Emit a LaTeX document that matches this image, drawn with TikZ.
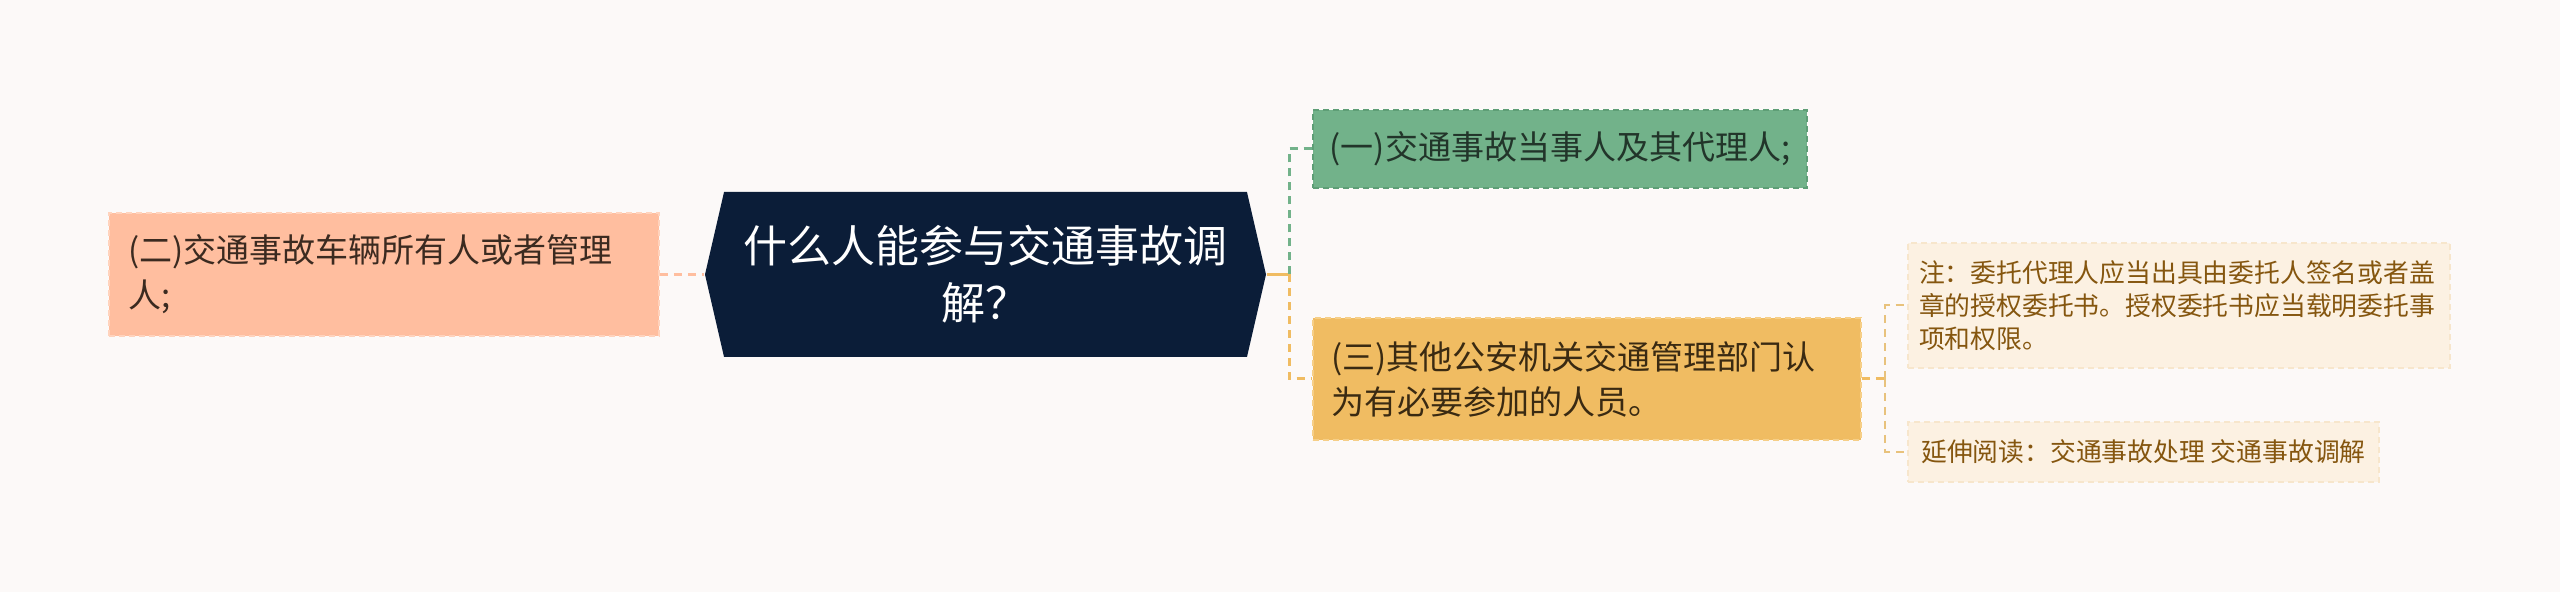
\documentclass[tikz,border=0pt]{standalone}
\usepackage{fontspec}
\setmainfont{Noto Sans CJK SC}
\usepackage{xcolor}
\usetikzlibrary{arrows,positioning,shapes.symbols}

\definecolor{pagebg}{HTML}{FCF9F8}
\definecolor{navy}{HTML}{0B1D38}
\definecolor{peach}{HTML}{FFBE9F}
\definecolor{peachedge}{HTML}{FFD3BD}
\definecolor{peachtext}{HTML}{3B2A20}
\definecolor{leaf}{HTML}{72B28A}
\definecolor{leafedge}{HTML}{5E9E76}
\definecolor{leaftext}{HTML}{22352A}
\definecolor{amber}{HTML}{F0BC62}
\definecolor{amberedge}{HTML}{F6CF88}
\definecolor{ambertext}{HTML}{3A2A12}
\definecolor{cream}{HTML}{FCF1E2}
\definecolor{creamedge}{HTML}{F7E6CC}
\definecolor{creamtext}{HTML}{85560F}
\definecolor{creamline}{HTML}{E8C27C}

\begin{document}
\begin{tikzpicture}[x=0.5pt,y=-0.5pt,semithick]
    \tikzstyle{topic}=[rectangle,draw,dash pattern=on 3pt off 2pt,line width=0.8pt,align=left,inner ysep=0pt,font={\fontsize{16.5pt}{22.5pt}\selectfont}]
    \tikzstyle{note}=[rectangle,draw=creamedge,fill=cream,text=creamtext,dash pattern=on 3pt off 2pt,line width=0.6pt,align=left,inner ysep=0pt,font={\fontsize{12.9pt}{16.5pt}\selectfont}]
    \tikzstyle{link}=[line width=1.5pt,dash pattern=on 4pt off 3pt]
    \tikzstyle{sublink}=[draw=creamline,line width=1pt,dash pattern=on 4pt off 3pt]

    \fill[pagebg] (0,0) rectangle (2560,592);
    \useasboundingbox (0,0) rectangle (2560,592);

    \node[signal,signal to=west and east,signal pointer angle=154,fill=navy,text=white,inner sep=0pt,
          minimum width=280.5pt,minimum height=82.5pt,align=center,
          font={\fontsize{22pt}{28.5pt}\selectfont}] (R) at (985.5,274.5) {什么人能参与交通事故调\\解？};
    \node[topic,fill=peach,draw=peachedge,text=peachtext,minimum width=275pt,minimum height=61.5pt,
          text width=256pt,inner xsep=9.5pt] (L) at (384,274.5) {(二)交通事故车辆所有人或者管理\\人;};
    \node[topic,fill=leaf,draw=leafedge,text=leaftext,minimum width=247pt,minimum height=39pt] (A) at (1560,149) {(一)交通事故当事人及其代理人;};
    \node[topic,fill=amber,draw=amberedge,text=ambertext,minimum width=274pt,minimum height=61pt,
          text width=256pt,inner xsep=9pt] (B) at (1587,379) {(三)其他公安机关交通管理部门认\\为有必要参加的人员。};
    \node[note,minimum width=271pt,minimum height=62.5pt,text width=260pt,inner xsep=5.5pt] (C) at (2179,305.5)
          {注：委托代理人应当出具由委托人签名或者盖\\章的授权委托书。授权委托书应当载明委托事\\项和权限。};
    \node[note,minimum width=235.5pt,minimum height=30pt] (D) at (2143.5,452) {延伸阅读：交通事故处理 交通事故调解};

    \coordinate (J1) at (1289,274.5);
    \coordinate (J2) at (1885,379);

    \draw[link,draw=peach] (L.east) -- (R.west);
    \draw[line width=1.5pt,draw=amber] (R.east) -- (J1);
    \draw[link,draw=leaf] (J1) |- (A.west);
    \draw[link,draw=amber] (J1) |- (B.west);
    \draw[link,draw=amber] (B.east) -- (J2);
    \draw[sublink] (J2) |- (C.west);
    \draw[sublink] (J2) |- (D.west);
\end{tikzpicture}
\end{document}
